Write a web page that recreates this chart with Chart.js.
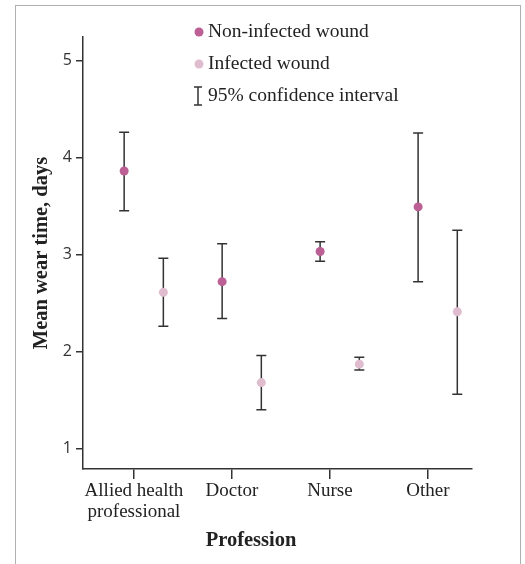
<!DOCTYPE html>
<html>
<head>
<meta charset="utf-8">
<script src="https://cdn.jsdelivr.net/npm/chart.js@4/dist/chart.umd.min.js"></script>
<style>
  html, body { margin: 0; padding: 0; background: #fff; }
  #wrap { position: relative; width: 525px; height: 564px; }
  #frame {
    position: absolute; left: 15px; top: 5px; width: 504px; height: 570px;
    border: 1px solid #b0b0b0; border-bottom: none; pointer-events: none;
  }
</style>
</head>
<body>
<div id="wrap">
  <canvas id="chart" width="525" height="564"></canvas>
  <div id="frame"></div>
</div>
<script>
const categories = [['Allied health', 'professional'], 'Doctor', 'Nurse', 'Other'];
const nonInfectedMean = [3.86, 2.72, 3.03, 3.49];
const nonInfectedLow = [3.45, 2.34, 2.93, 2.72];
const nonInfectedHigh = [4.26, 3.11, 3.13, 4.25];
const infectedMean = [2.61, 1.68, 1.87, 2.41];
const infectedLow = [2.26, 1.40, 1.81, 1.56];
const infectedHigh = [2.96, 1.96, 1.94, 3.25];
const yTicks = [1, 2, 3, 4, 5];

const nonColor = '#bb5f94';
const infColor = '#e0bccf';
const inkColor = '#333333';
const serif = '"Liberation Serif", "DejaVu Serif", serif';

// place each series next to its category tick
function points(means, shift) {
  return means.map((m, i) => ({ x: i + shift, y: m }));
}

const errorBars = {
  id: 'errorBars',
  beforeDatasetsDraw(chart) {
    const { ctx, scales: { x, y } } = chart;
    const sets = [
      [nonInfectedLow, nonInfectedHigh, -0.1],
      [infectedLow, infectedHigh, 0.3]
    ];
    ctx.save();
    ctx.strokeStyle = inkColor;
    ctx.lineWidth = 1.5;
    sets.forEach(([low, high, shift]) => {
      low.forEach((lo, i) => {
        const px = x.getPixelForValue(i + shift);
        const yLo = y.getPixelForValue(lo);
        const yHi = y.getPixelForValue(high[i]);
        ctx.beginPath();
        ctx.moveTo(px, yLo); ctx.lineTo(px, yHi);
        ctx.moveTo(px - 5, yLo); ctx.lineTo(px + 5, yLo);
        ctx.moveTo(px - 5, yHi); ctx.lineTo(px + 5, yHi);
        ctx.stroke();
      });
    });
    ctx.restore();
  }
};

const legendAndTitle = {
  id: 'legendAndTitle',
  afterDraw(chart) {
    const { ctx } = chart;
    ctx.save();
    ctx.font = '19.5px ' + serif;
    ctx.textBaseline = 'middle';
    ctx.textAlign = 'left';

    ctx.fillStyle = nonColor;
    ctx.beginPath(); ctx.arc(199, 32, 4.5, 0, Math.PI * 2); ctx.fill();
    ctx.fillStyle = infColor;
    ctx.beginPath(); ctx.arc(199, 64, 4.5, 0, Math.PI * 2); ctx.fill();

    ctx.strokeStyle = inkColor;
    ctx.lineWidth = 1.5;
    ctx.beginPath();
    ctx.moveTo(198, 87); ctx.lineTo(198, 105);
    ctx.moveTo(194, 87); ctx.lineTo(202, 87);
    ctx.moveTo(194, 105); ctx.lineTo(202, 105);
    ctx.stroke();

    ctx.fillStyle = '#222';
    ctx.fillText('Non-infected wound', 208, 32);
    ctx.fillText('Infected wound', 208, 64);
    ctx.fillText('95% confidence interval', 208, 96);

    ctx.font = 'bold 20.5px ' + serif;
    ctx.textAlign = 'center';
    ctx.fillText('Profession', 251, 541);
    ctx.restore();
  }
};

new Chart(document.getElementById('chart').getContext('2d'), {
  type: 'scatter',
  data: {
    datasets: [
      {
        label: 'Non-infected wound',
        data: points(nonInfectedMean, -0.1),
        backgroundColor: nonColor,
        borderWidth: 0,
        pointRadius: 4.5
      },
      {
        label: 'Infected wound',
        data: points(infectedMean, 0.3),
        backgroundColor: infColor,
        borderWidth: 0,
        pointRadius: 4.5
      }
    ]
  },
  options: {
    responsive: false,
    devicePixelRatio: 1,
    animation: false,
    layout: { padding: { top: 37, right: 53, left: 0, bottom: 0 } },
    plugins: {
      legend: { display: false },
      tooltip: { enabled: false }
    },
    scales: {
      x: {
        type: 'linear',
        min: -0.52,
        max: 3.45,
        afterFit(scale) { scale.height = 95; },
        afterBuildTicks(scale) {
          scale.ticks = categories.map((c, i) => ({ value: i }));
        },
        border: { display: true, color: inkColor, width: 1.5 },
        grid: { drawOnChartArea: false, drawTicks: true, tickLength: 10, color: inkColor, lineWidth: 1.5 },
        ticks: {
          autoSkip: false,
          maxRotation: 0,
          padding: 2,
          color: '#222',
          font: { family: serif, size: 19, lineHeight: 1.1 },
          callback: (v) => categories[v]
        }
      },
      y: {
        min: 0.79,
        max: 5.24,
        afterFit(scale) { scale.width = 83; },
        afterBuildTicks(scale) {
          scale.ticks = yTicks.map((v) => ({ value: v }));
        },
        border: { display: true, color: inkColor, width: 1.5 },
        grid: { drawOnChartArea: false, drawTicks: true, tickLength: 7, color: inkColor, lineWidth: 1.5 },
        ticks: {
          padding: 4,
          color: '#333',
          font: { family: '"Open Sans", "Liberation Sans", sans-serif', size: 16 }
        },
        title: {
          display: true,
          text: 'Mean wear time, days',
          color: '#222',
          font: { family: serif, size: 20.5, weight: 'bold', lineHeight: 1.2 },
          padding: { top: 29, bottom: 0 }
        }
      }
    }
  },
  plugins: [errorBars, legendAndTitle]
});
</script>
</body>
</html>
